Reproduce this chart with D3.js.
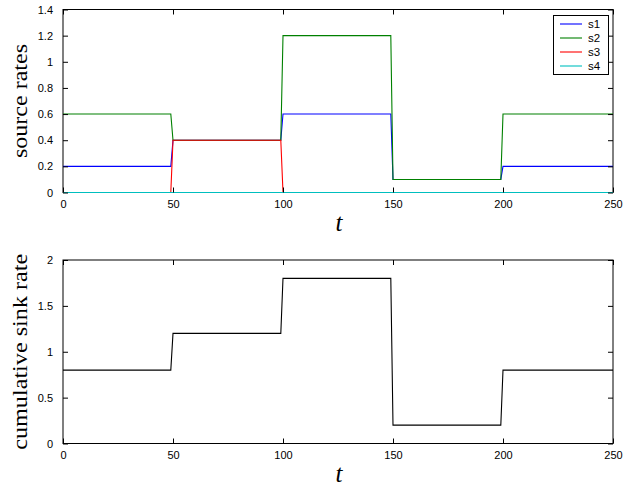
<!DOCTYPE html>
<html>
<head>
<meta charset="utf-8">
<script src="https://cdn.jsdelivr.net/npm/d3@7"></script>
<style>
  html, body { margin: 0; padding: 0; background: #fff; }
  svg { display: block; }
  .tick text { font-family: "Liberation Sans", Arial, sans-serif; font-size: 11px; fill: #000; }
</style>
</head>
<body>
<script>
// Breakpoints in time (each regime switch ramps over one sample)
const tPoints = [0, 49, 50, 99, 100, 149, 150, 199, 200, 250];

// Source rates at each breakpoint
const s1 = [0.2, 0.2, 0.4, 0.4, 0.6, 0.6, 0.1, 0.1, 0.2, 0.2];
const s2 = [0.6, 0.6, 0.4, 0.4, 1.2, 1.2, 0.1, 0.1, 0.6, 0.6];
const s3 = [0.0, 0.0, 0.4, 0.4, 0.0, 0.0, 0.0, 0.0, 0.0, 0.0];
const s4 = [0.0, 0.0, 0.0, 0.0, 0.0, 0.0, 0.0, 0.0, 0.0, 0.0];

// Cumulative sink rate at each breakpoint
const sink = [0.8, 0.8, 1.2, 1.2, 1.8, 1.8, 0.2, 0.2, 0.8, 0.8];

const seriesNames = ["s1", "s2", "s3", "s4"];
const seriesColors = ["#0000ff", "#008000", "#ff0000", "#00bfbf"];

const xTicks = [0, 50, 100, 150, 200, 250];
const yTicksTop = [0, 0.2, 0.4, 0.6, 0.8, 1, 1.2, 1.4];
const yTicksBottom = [0, 0.5, 1, 1.5, 2];

const W = 643, H = 489;
const svg = d3.select("body").append("svg").attr("width", W).attr("height", H);

const left = 63, right = 613;
const x = d3.scaleLinear().domain([0, 250]).range([left, right]);

function panel(top, bottom, yDomain, yTicks, seriesList, yLabel, labelLen) {
  const y = d3.scaleLinear().domain(yDomain).range([bottom, top]);
  const g = svg.append("g");

  g.append("rect").attr("x", left).attr("y", top)
    .attr("width", right - left).attr("height", bottom - top)
    .attr("fill", "none").attr("stroke", "#000").attr("stroke-width", 1);

  const line = d3.line().x((d, i) => x(tPoints[i])).y(d => y(d));
  seriesList.forEach(s => {
    g.append("path").datum(s.values)
      .attr("d", line)
      .attr("fill", "none")
      .attr("stroke", s.color)
      .attr("stroke-width", 1.1);
  });

  // axes with inward ticks on all four sides
  const ax = (gen, tx, ty) => g.append("g").attr("transform", `translate(${tx},${ty})`).call(gen)
    .call(a => a.select(".domain").remove());
  ax(d3.axisBottom(x).tickValues(xTicks).tickSizeInner(-5).tickSizeOuter(0).tickPadding(8).tickFormat(d3.format("d")), 0, bottom);
  ax(d3.axisTop(x).tickValues(xTicks).tickSizeInner(-5).tickSizeOuter(0).tickFormat(""), 0, top);
  ax(d3.axisLeft(y).tickValues(yTicks).tickSizeInner(-5).tickSizeOuter(0).tickPadding(10).tickFormat(d3.format("")), left, 0);
  ax(d3.axisRight(y).tickValues(yTicks).tickSizeInner(-5).tickSizeOuter(0).tickFormat(""), right, 0);
  g.selectAll(".tick line").attr("stroke", "#000");

  g.append("text")
    .attr("transform", `translate(27,${(top + bottom) / 2}) rotate(-90)`)
    .attr("text-anchor", "middle")
    .attr("font-family", "'Liberation Serif', 'Times New Roman', serif")
    .attr("font-size", 22)
    .attr("textLength", labelLen)
    .attr("lengthAdjust", "spacingAndGlyphs")
    .text(yLabel);

  g.append("text")
    .attr("x", 339).attr("y", bottom + 38)
    .attr("text-anchor", "middle")
    .attr("font-family", "'Liberation Serif', 'Times New Roman', serif")
    .attr("font-style", "italic")
    .attr("font-size", 25)
    .text("t");
  return g;
}

const topSeries = [s1, s2, s3, s4].map((v, i) => ({ values: v, color: seriesColors[i] }));
const g1 = panel(9.5, 192.5, [0, 1.4], yTicksTop, topSeries, "source rates", 114);
panel(260, 443.5, [0, 2], yTicksBottom, [{ values: sink, color: "#000" }], "cumulative sink rate", 196);

// legend
const lg = g1.append("g");
lg.append("rect").attr("x", 553.5).attr("y", 15.5).attr("width", 55).attr("height", 59)
  .attr("fill", "#fff").attr("stroke", "#000").attr("stroke-width", 1);
seriesNames.forEach((name, i) => {
  const yy = 24 + i * 14;
  lg.append("line").attr("x1", 560).attr("x2", 582).attr("y1", yy).attr("y2", yy)
    .attr("stroke", seriesColors[i]).attr("stroke-width", 1.1);
  lg.append("text").attr("x", 588).attr("y", yy + 4)
    .attr("font-family", "'Liberation Sans', Arial, sans-serif")
    .attr("font-size", 11.5).text(name);
});
</script>
</body>
</html>
